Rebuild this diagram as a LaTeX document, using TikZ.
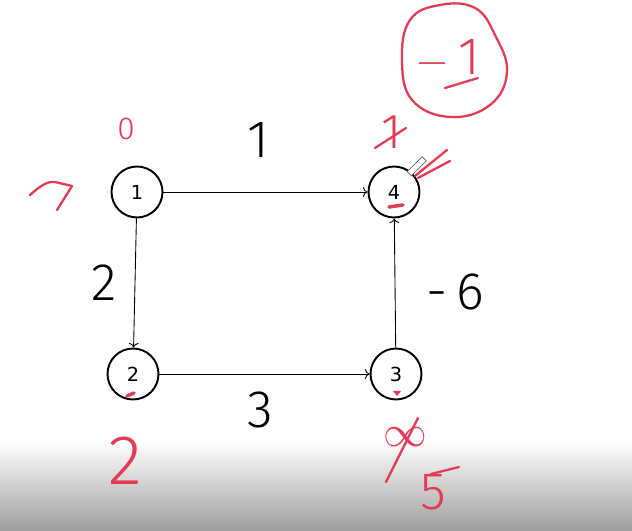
\documentclass[tikz,border=0pt]{standalone}
\usepackage{fontspec}
\setmainfont{DejaVu Sans}
\newfontfamily\handfont{Fira Sans Light}
\definecolor{penred}{RGB}{226,60,84}
\usetikzlibrary{arrows.meta,positioning,calc}

\begin{document}
\begin{tikzpicture}[
  vertex/.style={draw,circle,line width=1.1pt,minimum size=1.02cm,inner sep=0pt,font=\fontsize{11}{11}\selectfont},
  weight/.style={font=\handfont\fontsize{30}{30}\selectfont},
  note/.style={text=penred,font=\handfont\fontsize{#1}{#1}\selectfont},
  ink/.style={penred,line width=1.3pt,line cap=round,line join=round}]
  \useasboundingbox (0,0) rectangle (12.64,10.62);
  % screen fading at the bottom
  \shade[top color=white,bottom color=black!38] (0,0) rectangle (12.64,1.8);
  \fill[white] (0,1.8) rectangle (12.64,10.62);
  % graph
  \node[vertex] (v1) at (2.74,6.78) {1};
  \node[vertex] (v4) at (7.88,6.78) {4};
  \node[vertex] (v2) at (2.66,3.14) {2};
  \node[vertex] (v3) at (7.92,3.14) {3};
  \draw[->,line width=0.5pt] (v1) -- (v4);
  \draw[->,line width=0.5pt] (v1) -- (v2);
  \draw[->,line width=0.5pt] (v2) -- (v3);
  \draw[->,line width=0.5pt] (v3) -- (v4);
  \node[weight] (w14) at (5.16,7.82) {1};
  \node[weight] (w12) at (2.08,4.96) {2};
  \node[weight] (w23) at (5.20,2.42) {3};
  \node[weight] (w34) at (9.10,4.78) {-\,6};
  % red notes
  \node[note=18] (d1) at (2.52,8.04) {0};
  \coordinate (src) at (0.60,6.72);
  \draw[ink] (src) .. controls (0.80,6.90) and (0.95,7.00) .. (1.10,6.98)
    -- (1.44,6.90) -- (1.14,6.42);
  \node[note=28] (d4old) at (7.84,7.98) {1};
  \draw[ink] (7.50,7.66) -- (8.12,8.06);
  \draw[ink] plot[smooth cycle,tension=0.7] coordinates {(8.04,9.42) (8.24,8.62) (9.00,8.28)
    (9.80,8.52) (10.14,9.18) (9.90,9.92) (9.50,10.46) (8.80,10.52) (8.20,10.22)};
  \node[note=30] (d4) at (8.96,9.44) {$-$\,1};
  \draw[ink] (8.90,8.86) -- (9.56,9.06);
  \draw[ink] (8.94,7.62) -- (8.30,7.10);
  \draw[ink] (9.00,7.40) -- (8.36,7.06);
  \draw[black!60,fill=white,rotate around={45:(8.30,7.26)}] (8.14,7.20) rectangle (8.56,7.32);
  \draw[ink,line width=2pt] (7.78,6.48) -- (8.06,6.52);
  \draw[ink,line width=2pt] (2.54,2.70) -- (2.68,2.76);
  \fill[penred] (7.86,2.80) -- (8.02,2.80) -- (7.94,2.70) -- cycle;
  \node[note=40] (d2) at (2.50,1.40) {2};
  \node[note=36] (d3old) at (8.10,1.88) {$\infty$};
  \draw[ink] (7.72,0.98) -- (8.36,2.26);
  \node[note=30] (d3) at (8.66,0.78) {5};
  \draw[ink] (8.62,1.14) -- (9.18,1.28);
\end{tikzpicture}
\end{document}
